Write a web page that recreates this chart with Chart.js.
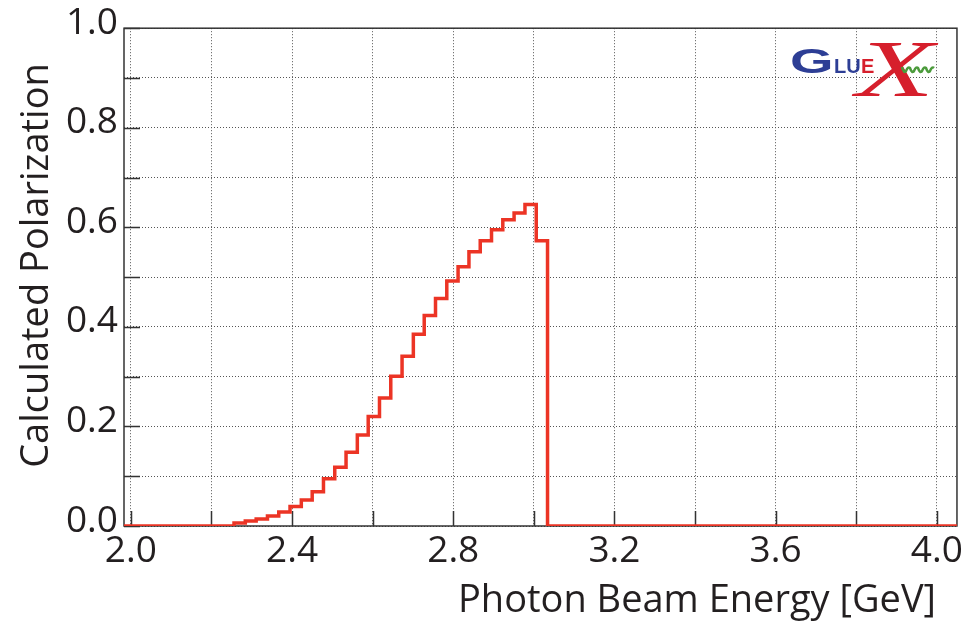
<!DOCTYPE html>
<html>
<head>
<meta charset="utf-8">
<title>Calculated Polarization</title>
<script src="https://cdn.jsdelivr.net/npm/chart.js@4.4.1/dist/chart.umd.min.js"></script>
<style>
    html, body { margin: 0; padding: 0; background: #ffffff; }
    #wrap { width: 966px; height: 622px; }
</style>
</head>
<body>
<div id="wrap"><canvas id="polChart" width="966" height="622"></canvas></div>
<script>
// histogram bins (low edges, GeV) and their contents
const binLowEdges = [
    2.256, 2.284, 2.311, 2.339, 2.367, 2.395, 2.423, 2.450, 2.478, 2.506,
    2.534, 2.562, 2.589, 2.617, 2.645, 2.673, 2.701, 2.728, 2.756, 2.784,
    2.812, 2.839, 2.867, 2.895, 2.923, 2.951, 2.978, 3.006
];
const lastBinUpEdge = 3.034;
const polarization = [
    0.006, 0.010, 0.014, 0.020, 0.028, 0.039, 0.052, 0.069, 0.095, 0.118,
    0.148, 0.183, 0.220, 0.257, 0.301, 0.341, 0.385, 0.423, 0.457, 0.492,
    0.521, 0.551, 0.573, 0.595, 0.615, 0.629, 0.646, 0.573
];

const xRange = [1.983, 4.05];
const yRange = [0, 1.0];
const xTickValues = [2.0, 2.2, 2.4, 2.6, 2.8, 3.0, 3.2, 3.4, 3.6, 3.8, 4.0];
const xTickLabels = ['2.0', '2.4', '2.8', '3.2', '3.6', '4.0'];
const yTickValues = [0.0, 0.1, 0.2, 0.3, 0.4, 0.5, 0.6, 0.7, 0.8, 0.9, 1.0];
const yTickLabels = ['0.0', '0.2', '0.4', '0.6', '0.8', '1.0'];

const xTitle = 'Photon Beam Energy [GeV]';
const yTitle = 'Calculated Polarization';

const TEXT_COLOR = '#231f20';
const FRAME_COLOR = '#333333';
const GRID_COLOR = '#555555';
const LINE_COLOR = '#ec3425';
const FONT = '"Open Sans", "Noto Sans", sans-serif';

const histPoints = [
    { x: xRange[0], y: 0 },
    ...binLowEdges.map((edge, i) => ({ x: edge, y: polarization[i] })),
    { x: lastBinUpEdge, y: 0 },
    { x: xRange[1], y: 0 }
];

const tickLabel = (value, labels) => {
    const text = value.toFixed(1);
    return labels.includes(text) ? text : '';
};

// frame and inward tick marks, drawn under the histogram line
const framePlugin = {
    id: 'frame',
    beforeDatasetsDraw(chart) {
        const { ctx, chartArea: area, scales } = chart;
        ctx.save();
        ctx.strokeStyle = FRAME_COLOR;
        ctx.lineWidth = 1.5;
        ctx.strokeRect(area.left, area.top, area.right - area.left, area.bottom - area.top);
        ctx.beginPath();
        xTickValues.forEach(v => {
            const px = Math.round(scales.x.getPixelForValue(v)) + 0.5;
            ctx.moveTo(px, area.bottom);
            ctx.lineTo(px, area.bottom - 15);
        });
        yTickValues.forEach(v => {
            const py = Math.round(scales.y.getPixelForValue(v)) + 0.5;
            ctx.moveTo(area.left, py);
            ctx.lineTo(area.left + 16, py);
        });
        ctx.stroke();
        ctx.restore();
    }
};

// axis titles and the GlueX mark
const decorPlugin = {
    id: 'decor',
    afterDraw(chart) {
        const { ctx, chartArea: area } = chart;
        ctx.save();
        ctx.fillStyle = TEXT_COLOR;
        ctx.font = '38px ' + FONT;
        ctx.textBaseline = 'alphabetic';

        ctx.textAlign = 'right';
        ctx.fillText(xTitle, area.right - 21, 612);

        ctx.save();
        ctx.translate(48, area.top + 35);
        ctx.rotate(-Math.PI / 2);
        ctx.textAlign = 'right';
        ctx.fillText(yTitle, 0, 0);
        ctx.restore();

        // logo
        ctx.textAlign = 'left';
        ctx.save();
        ctx.translate(790, 73);
        ctx.scale(1.6, 1);
        ctx.fillStyle = '#2d3e95';
        ctx.font = 'bold 35px "Liberation Sans", sans-serif';
        ctx.fillText('G', 0, 0);
        ctx.restore();

        ctx.font = 'bold 20px "Liberation Sans", sans-serif';
        ctx.fillStyle = '#2d3e95';
        ctx.fillText('LU', 834, 73);
        ctx.fillStyle = '#d61f2c';
        ctx.fillText('E', 861, 73);

        ctx.save();
        ctx.translate(856, 96);
        ctx.scale(1.6, 1);
        ctx.fillStyle = '#d61f2c';
        ctx.font = 'italic 80px "Liberation Serif", serif';
        ctx.fillText('X', 0, 0);
        ctx.restore();

        ctx.strokeStyle = '#4c9b3c';
        ctx.lineWidth = 2.5;
        ctx.beginPath();
        ctx.moveTo(902, 67);
        for (let i = 0; i < 4; i++) {
            const x0 = 902 + i * 8;
            ctx.quadraticCurveTo(x0 + 2, 74, x0 + 4, 71);
            ctx.quadraticCurveTo(x0 + 6, 66, x0 + 8, 68);
        }
        ctx.stroke();
        ctx.restore();
    }
};

const ctx = document.getElementById('polChart').getContext('2d');

const polChart = new Chart(ctx, {
    type: 'line',
    data: {
        datasets: [{
            label: 'Polarization',
            data: histPoints,
            stepped: 'before',
            borderColor: LINE_COLOR,
            borderWidth: 3.5,
            pointRadius: 0,
            fill: false,
            tension: 0
        }]
    },
    options: {
        responsive: false,
        animation: false,
        events: [],
        layout: {
            padding: { top: 27, right: 7, left: 0, bottom: 0 }
        },
        plugins: {
            legend: { display: false },
            tooltip: { enabled: false }
        },
        scales: {
            x: {
                type: 'linear',
                min: xRange[0],
                max: xRange[1],
                afterBuildTicks: (scale) => {
                    scale.ticks = xTickValues.map(v => ({ value: v }));
                },
                afterFit: (scale) => {
                    scale.height = 96;
                },
                ticks: {
                    autoSkip: false,
                    maxRotation: 0,
                    padding: 3,
                    color: TEXT_COLOR,
                    font: { family: FONT, size: 37 },
                    callback: (value) => tickLabel(value, xTickLabels)
                },
                grid: {
                    color: GRID_COLOR,
                    lineWidth: 1,
                    drawTicks: false
                },
                border: { display: false, dash: [1, 2] }
            },
            y: {
                type: 'linear',
                min: yRange[0],
                max: yRange[1],
                afterBuildTicks: (scale) => {
                    scale.ticks = yTickValues.map(v => ({ value: v }));
                },
                afterFit: (scale) => {
                    scale.width = 124;
                },
                ticks: {
                    autoSkip: false,
                    padding: 6,
                    labelOffset: -5,
                    color: TEXT_COLOR,
                    font: { family: FONT, size: 37 },
                    callback: (value) => tickLabel(value, yTickLabels)
                },
                grid: {
                    color: GRID_COLOR,
                    lineWidth: 1,
                    drawTicks: false
                },
                border: { display: false, dash: [1, 2] }
            }
        }
    },
    plugins: [framePlugin, decorPlugin]
});
</script>
</body>
</html>
